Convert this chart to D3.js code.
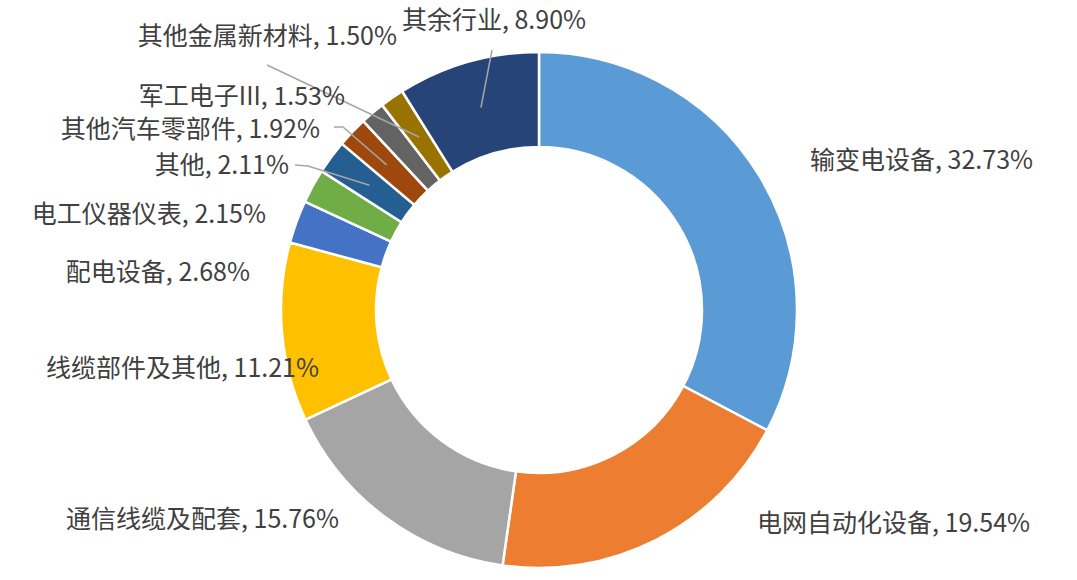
<!DOCTYPE html>
<html>
<head>
<meta charset="utf-8">
<script src="https://cdn.jsdelivr.net/npm/d3@7"></script>
<style>
  body { margin: 0; background: #fff; }
  svg text { font-family: "Noto Sans CJK SC", "Noto Sans", sans-serif; fill: #404040; }
</style>
</head>
<body>
<svg id="chart" width="1077" height="580"></svg>
<script>
// data
const categories = ["输变电设备", "电网自动化设备", "通信线缆及配套", "线缆部件及其他", "配电设备",
  "电工仪器仪表", "其他", "其他汽车零部件", "军工电子III", "其他金属新材料", "其余行业"];
const shares = [32.73, 19.54, 15.76, 11.21, 2.68, 2.15, 2.11, 1.92, 1.53, 1.50, 8.90];
const colors = ["#5B9BD5", "#ED7D31", "#A5A5A5", "#FFC000", "#4472C4", "#70AD47",
  "#255E91", "#9E480E", "#636363", "#997300", "#264478"];

// label layout (pixels, page coords): text anchor point, anchor type, optional leader start
const labelLayout = [
  { x: 810, y: 160, anchor: "start" },
  { x: 757, y: 523, anchor: "start" },
  { x: 339, y: 519, anchor: "end" },
  { x: 319, y: 368, anchor: "end" },
  { x: 250, y: 272, anchor: "end" },
  { x: 266, y: 214, anchor: "end" },
  { x: 289, y: 165, anchor: "end", lead: [[295, 165], [308, 166]] },
  { x: 320, y: 129, anchor: "end", lead: [[334, 127], [343, 127]] },
  { x: 345, y: 96,  anchor: "end" },
  { x: 397, y: 36,  anchor: "end", lead: [[267, 65]] },
  { x: 494, y: 20,  anchor: "middle", lead: [[492, 50]] }
];

let chart = d3.select("#chart");
let cx = 539, cy = 310;
let outerR = 258, innerR = 163;

let pie = d3.pie().sort(null).value(function(d) { return d; });
let arcs = pie(shares);

let arc = d3.arc().innerRadius(innerR).outerRadius(outerR);
let midArc = d3.arc().innerRadius((innerR + outerR) / 2).outerRadius((innerR + outerR) / 2);

let g = chart.append("g").attr("transform", "translate(" + cx + "," + cy + ")");

g.selectAll("path.slice")
  .data(arcs)
  .enter()
  .append("path")
    .attr("class", "slice")
    .attr("d", arc)
    .attr("fill", function(d, i) { return colors[i]; })
    .attr("stroke", "#ffffff")
    .attr("stroke-width", 2.5)
    .attr("stroke-linejoin", "miter");

// leader lines
arcs.forEach(function(d, i) {
  let lay = labelLayout[i];
  if (!lay.lead) return;
  let c = midArc.centroid(d);
  let pts = lay.lead.map(function(p) { return [p[0], p[1]]; });
  pts.push([c[0] + cx, c[1] + cy]);
  chart.append("path")
    .attr("d", d3.line()(pts))
    .attr("fill", "none")
    .attr("stroke", "#A6A6A6")
    .attr("stroke-width", 1.5);
});

// labels
chart.selectAll("text.lbl")
  .data(arcs)
  .enter()
  .append("text")
    .attr("class", "lbl")
    .attr("x", function(d, i) { return labelLayout[i].x; })
    .attr("y", function(d, i) { return labelLayout[i].y; })
    .attr("dy", "0.35em")
    .attr("text-anchor", function(d, i) { return labelLayout[i].anchor; })
    .style("font-size", "25px")
    .text(function(d, i) { return categories[i] + ", " + shares[i].toFixed(2) + "%"; });
</script>
</body>
</html>
